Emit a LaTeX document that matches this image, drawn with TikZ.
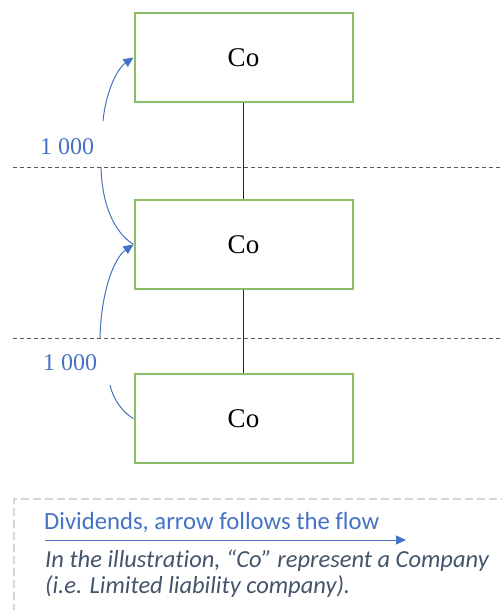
\documentclass[tikz,border=0pt]{standalone}
\usepackage{fontspec}
\setmainfont{Liberation Serif}
\newfontfamily\legendfont[Ligatures=NoCommon]{Carlito}
\usetikzlibrary{arrows.meta}
\definecolor{boxgreen}{HTML}{8CBD64}
\definecolor{flowblue}{HTML}{4472C4}
\definecolor{notegray}{HTML}{44546A}
\definecolor{framegray}{HTML}{D6D6D6}
\definecolor{levelgray}{HTML}{5A5A5A}
\tikzset{
  cobox/.style={draw=boxgreen, line width=2pt, minimum width=218pt, minimum height=89pt,
    inner sep=0pt, font=\fontsize{27}{30}\selectfont},
  link/.style={draw=black!85, line width=1.1pt},
  level/.style={draw=levelgray, line width=1pt, dash pattern=on 4pt off 3pt},
  flow/.style={draw=flowblue, line width=1pt},
  flowtip/.style={flow, -{Triangle[length=10pt,width=9pt]}},
  amount/.style={text=flowblue, font=\fontsize{24}{26}\selectfont, inner sep=0pt},
  frame/.style={draw=framegray, line width=1.5pt, dash pattern=on 8pt off 4pt},
  notetext/.style={anchor=base west, inner sep=0pt, text=notegray,
    font=\legendfont\itshape\fontsize{24.5}{26}\selectfont},
}
\begin{document}
\begin{tikzpicture}[x=1pt, y=-1pt]
\useasboundingbox (0,0) rectangle (501,610);

% companies
\node[cobox] (co1) at (243.5,57.5) {Co};
\node[cobox] (co2) at (243.5,244.5) {Co};
\node[cobox] (co3) at (243.5,418.5) {Co};

% ownership links
\draw[link] (co1.south) -- (co2.north);
\draw[link] (co2.south) -- (co3.north);

% level separators
\coordinate (l1a) at (13,167);
\coordinate (l1b) at (501,167);
\coordinate (l2a) at (13,338);
\coordinate (l2b) at (501,338);
\draw[level] (l1a) -- (l1b);
\draw[level] (l2a) -- (l2b);

% dividend amounts
\node[amount] (d1) at (67,147) {1 000};
\node[amount] (d2) at (70,363) {1 000};

% dividend flows
\coordinate (f1s) at (103,121);
\coordinate (f1e) at (101,167);
\coordinate (f2s) at (100,338);
\coordinate (f2e) at (110,385);
\draw[flowtip] (f1s) .. controls (106,90) and (118,68) .. (co1.west);
\draw[flow] (co2.west) .. controls (114,232) and (102,205) .. (f1e);
\draw[flowtip] (f2s) .. controls (101,292) and (114,258) .. (co2.west);
\draw[flow] (co3.west) .. controls (123,413) and (113,399) .. (f2e);

% legend
\coordinate (fr1) at (14,612);
\coordinate (fr2) at (14,499);
\coordinate (fr3) at (503,499);
\draw[frame] (fr1) -- (fr2) -- (fr3);
\node[anchor=base west, inner sep=0pt, text=flowblue, font=\legendfont\fontsize{24.7}{28}\selectfont]
  (lg) at (44,529) {Dividends, arrow follows the flow};
\coordinate (la) at (45,540);
\coordinate (lb) at (406,540);
\draw[flowtip] (la) -- (lb);
\node[notetext] (note1) at (45,567) {In the illustration, “Co” represent a Company};
\node[notetext] (note2) at (45,593) {(i.e. Limited liability company).};
\end{tikzpicture}
\end{document}
